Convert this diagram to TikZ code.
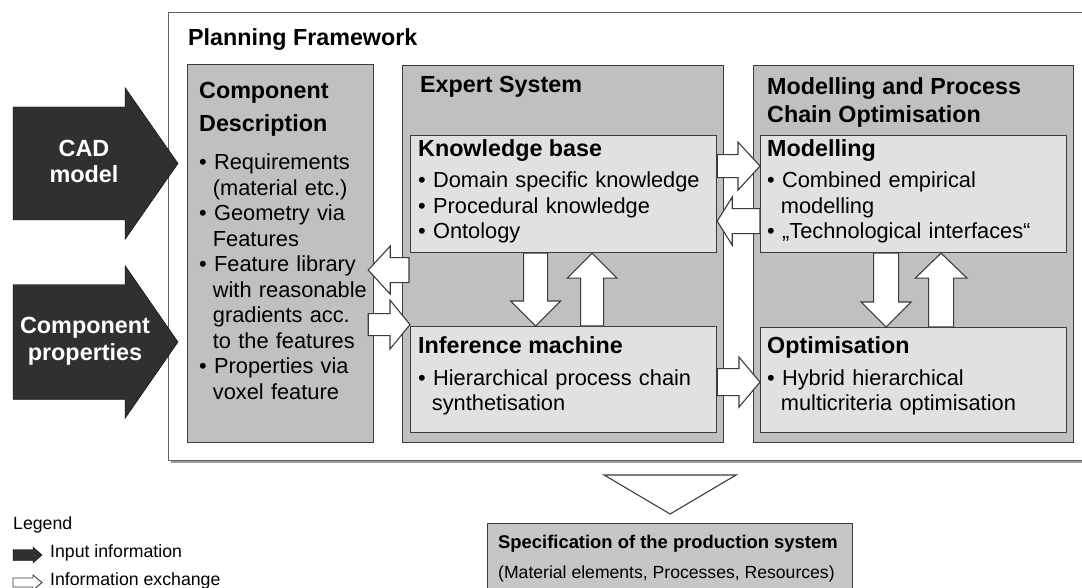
\documentclass[tikz,border=0pt]{standalone}
\usepackage{fontspec}
\setmainfont{Liberation Sans}
\usetikzlibrary{calc}
\definecolor{boxgray}{HTML}{C0C0C0}
\definecolor{lightbox}{HTML}{E1E1E1}
\definecolor{darkarrow}{HTML}{303030}
\definecolor{bordergray}{HTML}{3C3C3C}
\definecolor{specgray}{HTML}{C6C6C6}
\definecolor{shadowgray}{HTML}{9A9A9A}
% block arrow: [style]{(start)}{(tip)}{shaft half}{head half}{head length}
\newcommand\blockarrow[6][]{%
  \coordinate (bhbase) at ($#3!#6!#2$);
  \draw[#1] ($#2!#4!90:#3$) -- ($(bhbase)!#4!90:#3$) -- ($(bhbase)!#5!90:#3$) -- #3
    -- ($(bhbase)!#5!-90:#3$) -- ($(bhbase)!#4!-90:#3$) -- ($#2!#4!-90:#3$) -- cycle;}
\newcommand\bul{•\ }
\newcommand\ind{\hspace*{13.7pt}}
\tikzset{
  graybox/.style={draw=bordergray, line width=1.2pt, fill=boxgray, inner sep=0pt, anchor=north west},
  lbox/.style={draw=bordergray, line width=1.2pt, fill=lightbox, inner sep=0pt, anchor=north west},
  exarrow/.style={draw=bordergray, line width=1.1pt, fill=white},
  inarrow/.style={fill=darkarrow},
  head/.style={font=\fontsize{23.3}{27}\selectfont\bfseries, anchor=base west, inner sep=0pt},
  body/.style={font=\fontsize{21.8}{25.5}\selectfont, anchor=base west, inner sep=0pt, text width=300pt, align=left},
  whitehead/.style={font=\fontsize{23.4}{27}\selectfont\bfseries, text=white, anchor=base, inner sep=0pt},
  legendtext/.style={font=\fontsize{17.7}{21}\selectfont, anchor=base west, inner sep=0pt},
}
\begin{document}
\begin{tikzpicture}[x=1pt,y=-1pt]
\useasboundingbox (0,0) rectangle (1082,588);
% frame with shadow
\node[draw=none, fill=shadowgray, minimum width=925pt, minimum height=448pt, inner sep=0pt, anchor=north west] (shadow) at (171,15) {};
\node[draw=bordergray!80, line width=1.3pt, fill=white, minimum width=925pt, minimum height=448pt, inner sep=0pt, anchor=north west] (frame) at (168,12) {};
% boxes
\node[graybox, minimum width=186pt, minimum height=378pt] (cd) at (187,64) {};
\node[graybox, minimum width=321pt, minimum height=377pt] (es) at (402,65) {};
\node[graybox, minimum width=320pt, minimum height=377pt] (mp) at (753,65) {};
\node[lbox, minimum width=306pt, minimum height=117pt] (kb) at (410,135) {};
\node[lbox, minimum width=306pt, minimum height=106pt] (im) at (410,326) {};
\node[lbox, minimum width=306pt, minimum height=117pt] (mo) at (760,135) {};
\node[lbox, minimum width=306pt, minimum height=105pt] (op) at (760,327) {};
\node[draw=bordergray, line width=1.2pt, fill=specgray, minimum width=365pt, minimum height=80pt, inner sep=0pt, anchor=north west] (spec) at (487,523) {};
% input arrows
\coordinate (cads) at (13,163.5);
\coordinate (cadt) at (178,163.5);
\blockarrow[inarrow]{(cads)}{(cadt)}{56.5pt}{76pt}{53pt}
\coordinate (cps) at (13,342);
\coordinate (cpt) at (178,342);
\blockarrow[inarrow]{(cps)}{(cpt)}{57.5pt}{76.5pt}{53pt}
% information exchange arrows
\coordinate (a1s) at ([yshift=28pt]kb.east);
\coordinate (a1t) at ([yshift=28pt]mo.west);
\blockarrow[exarrow]{(a1s)}{(a1t)}{11.5pt}{24pt}{22pt}
\coordinate (a2s) at ([yshift=-27pt]mo.west);
\coordinate (a2t) at ([yshift=-27pt]kb.east);
\blockarrow[exarrow]{(a2s)}{(a2t)}{12.5pt}{24pt}{15pt}
\coordinate (a3s) at ([xshift=-28pt]kb.south);
\coordinate (a3t) at ([xshift=-28pt]im.north);
\blockarrow[exarrow]{(a3s)}{(a3t)}{12pt}{25pt}{25pt}
\coordinate (a4s) at ([xshift=28.5pt]im.north);
\coordinate (a4t) at ([xshift=28.5pt]kb.south);
\blockarrow[exarrow]{(a4s)}{(a4t)}{11.5pt}{25pt}{25pt}
\coordinate (a5s) at ([xshift=-27.5pt]mo.south);
\coordinate (a5t) at ([xshift=-27.5pt]op.north);
\blockarrow[exarrow]{(a5s)}{(a5t)}{12.5pt}{25pt}{25pt}
\coordinate (a6s) at ([xshift=27.5pt]op.north);
\coordinate (a6t) at ([xshift=27.5pt]mo.south);
\blockarrow[exarrow]{(a6s)}{(a6t)}{12.5pt}{26pt}{25pt}
\coordinate (a7s) at ([xshift=7pt,yshift=-16pt]es.west);
\coordinate (a7t) at ([xshift=-6pt,yshift=-16.5pt]cd.east);
\blockarrow[exarrow]{(a7s)}{(a7t)}{12.5pt}{24pt}{22pt}
\coordinate (a8s) at ([xshift=-6pt,yshift=-71pt]cd.east);
\coordinate (a8t) at ([yshift=55pt]im.west);
\blockarrow[exarrow]{(a8s)}{(a8t)}{11pt}{24.5pt}{20pt}
\coordinate (a9s) at ([yshift=-2.5pt]im.east);
\coordinate (a9t) at ([yshift=-2pt]op.west);
\blockarrow[exarrow]{(a9s)}{(a9t)}{13.5pt}{25pt}{21pt}
% output triangle
\coordinate (outl) at ([xshift=-66pt,yshift=48pt]spec.north);
\coordinate (outr) at ([xshift=66pt,yshift=48pt]spec.north);
\coordinate (outt) at ([yshift=9pt]spec.north);
\draw[exarrow] (outl) -- (outr) -- (outt) -- cycle;
% texts
\node[head] (pft) at (188,46) {Planning Framework};
\node[head] (cdt1) at (199,99) {Component};
\node[head] (cdt2) at (199,132) {Description};
\node[body, text width=172pt] (cdb) at (199,170) {\bul Requirements\\\ind(material etc.)\\
\bul Geometry via\\\ind Features\\
\bul Feature library\\\ind with reasonable\\\ind gradients acc.\\\ind to the features\\
\bul Properties via\\\ind voxel feature};
\node[head] (est) at (420,93) {Expert System};
\node[head] (kbt) at (418,157) {Knowledge base};
\node[body] (kbb) at (418,188) {\bul Domain specific knowledge\\\bul Procedural knowledge\\\bul Ontology};
\node[head] (imt) at (418,353) {Inference machine};
\node[body] (imb) at (418,385) {\bul Hierarchical process chain\\\ind synthetisation};
\node[head] (mpt1) at (767,95) {Modelling and Process};
\node[head] (mpt2) at (767,123) {Chain Optimisation};
\node[head] (mot) at (767,157) {Modelling};
\node[body] (mob) at (767,188) {\bul Combined empirical\\\ind modelling\\\bul „Technological interfaces“};
\node[head] (opt) at (767,353) {Optimisation};
\node[body] (opb) at (767,385) {\bul Hybrid hierarchical\\\ind multicriteria optimisation};
\node[whitehead] (cadl1) at (84,157) {CAD};
\node[whitehead] (cadl2) at (84,183) {model};
\node[whitehead] (cpl1) at (85,333) {Component};
\node[whitehead] (cpl2) at (85,360) {properties};
\node[font=\fontsize{18.4}{22}\selectfont\bfseries, anchor=base west, inner sep=0pt] (spect1) at (498,548) {Specification of the production system};
\node[font=\fontsize{17.6}{22}\selectfont, anchor=base west, inner sep=0pt] (spect2) at (498,578) {(Material elements, Processes, Resources)};
% legend
\node[legendtext] (leg) at (13,529) {Legend};
\coordinate (l1s) at (13,555);
\coordinate (l1t) at (42,555);
\blockarrow[inarrow]{(l1s)}{(l1t)}{5.5pt}{8pt}{9pt}
\node[legendtext] (leg1) at (50,557) {Input information};
\coordinate (l2s) at (13,582.5);
\coordinate (l2t) at (42,582.5);
\blockarrow[exarrow, line width=0.9pt]{(l2s)}{(l2t)}{4.5pt}{7.5pt}{9pt}
\node[legendtext] (leg2) at (50,585) {Information exchange};
\end{tikzpicture}
\end{document}
